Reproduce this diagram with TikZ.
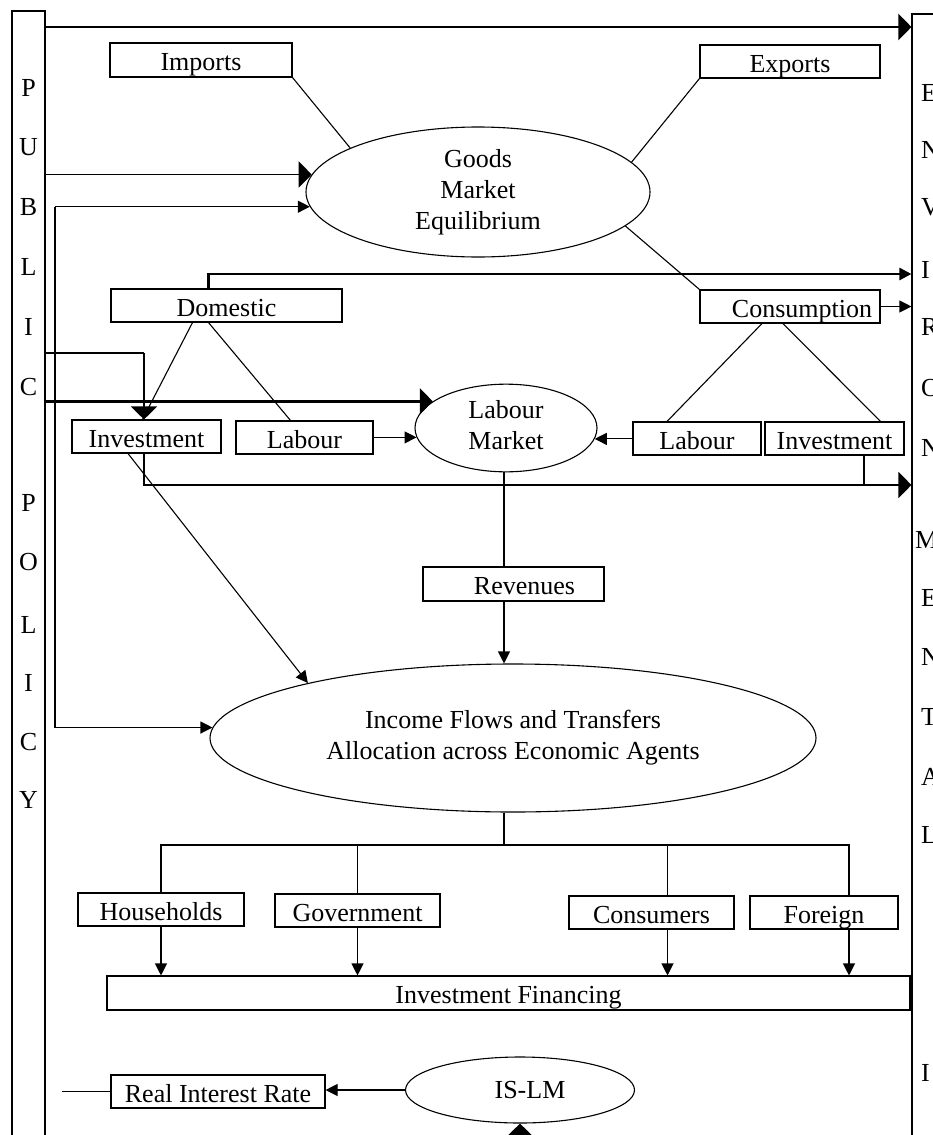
\documentclass[tikz,border=0pt]{standalone}
\usepackage{fontspec}
\setmainfont{Liberation Serif}
\usetikzlibrary{shapes.geometric,arrows.meta}
\newcommand\mainfnt{\fontsize{26}{31}\selectfont}

\begin{document}
\begin{tikzpicture}[x=1pt,y=-1pt,
  box/.style={draw, line width=1.1pt, rectangle, inner sep=1pt, font=\mainfnt, minimum height=33pt, text height=25pt, text depth=4pt},
  oval/.style={draw, line width=1.1pt, ellipse, inner sep=0pt, align=center, font=\mainfnt},
  conn/.style={line width=1.1pt},
  mid/.style={line width=1.7pt},
  heavy/.style={line width=2.4pt},
  tip/.style={-{Triangle[length=12pt,width=12pt]}},
  bigtip/.style={-{Triangle[length=13pt,width=26pt]}},
  letter/.style={font=\mainfnt, inner sep=0pt},
  column/.style={draw, line width=1.1pt, inner sep=0pt}]

\useasboundingbox (0,0) rectangle (933,1135);
\fill[white] (0,0) rectangle (933,1135);

% side columns
\node[column, minimum width=33pt, minimum height=1139pt] (pub) at (28.5,580.5) {};
\node[column, minimum width=48pt, minimum height=1136pt] (env) at (936,582) {};

\foreach \ch/\y [count=\i] in {P/88,U/147,B/207,L/267,I/327,C/387,P/503,O/562,L/625,I/683,C/742,Y/800}
  \node[letter] (pl\i) at (28.5,\y) {\ch};
\foreach \ch/\y [count=\i] in {E/93,N/150,V/207,I/270,R/327,O/388,N/448,E/598,N/657,T/717,A/777,L/835,I/1073}
  \node[letter, anchor=west] (el\i) at (921,\y) {\ch};
\node[letter, anchor=west] (elm) at (915,540) {M};

% markets
\node[oval, minimum width=344pt, minimum height=130pt] (goods) at (478,192) {Goods\\Market\\Equilibrium};
\node[oval, minimum width=182pt, minimum height=80pt] (labmkt) at (506,428)
  {\raisebox{-4pt}{\begin{tabular}{@{}l@{}}Labour\\Market\end{tabular}}};
\node[oval, minimum width=606pt, minimum height=148pt] (income) at (513,738)
  {\raisebox{4pt}{\begin{tabular}{@{}c@{}}Income Flows and Transfers\\Allocation across Economic Agents\end{tabular}}};
\node[oval, minimum width=229pt, minimum height=66pt] (islm) at (520,1090) {\hspace*{20pt}IS-LM};

% boxes
\node[box, minimum width=182pt, minimum height=34pt] (imports) at (201,60) {Imports};
\node[box, minimum width=180pt] (exports) at (790,61.5) {Exports};
\node[box, minimum width=231pt] (domestic) at (226.5,305.5) {Domestic};
\node[box, minimum width=180pt] (consumption) at (790,306.5) {\hspace*{24pt}Consumption};
\node[box, minimum width=149pt] (invL) at (146.5,436.5) {Investment};
\node[box, minimum width=137pt] (labL) at (304.5,437.5) {Labour};
\node[box, minimum width=128pt] (labR) at (697,438.5) {Labour};
\node[box, minimum width=139pt] (invR) at (834.5,438.5) {Investment};
\node[box, minimum width=181pt, minimum height=34pt] (revenues) at (513.5,584) {\hspace*{22pt}Revenues};
\node[box, minimum width=166pt] (households) at (161,909.5) {Households};
\node[box, minimum width=165pt] (government) at (357.5,910.5) {Government};
\node[box, minimum width=165pt] (consumers) at (651.5,912.5) {Consumers};
\node[box, minimum width=148pt] (foreign) at (824,912.5) {Foreign};
\node[box, minimum width=803pt, minimum height=34pt] (invfin) at (508.5,993) {Investment Financing};
\node[box, minimum width=214pt] (rir) at (218,1091.5) {Real Interest Rate};

% reference levels and rails
\coordinate (rail) at (55,0);
\coordinate (lvlTop) at (0,27);
\coordinate (lvlDom) at (0,274);
\coordinate (lvlInv) at (0,353);
\coordinate (invtap) at (144,353);
\coordinate (lvlOut) at (0,485);
\coordinate (hub) at (504,845);
\coordinate (rirout) at (62,0);
\coordinate (islmfeed) at (520,1150);

% policy feeds
\draw[heavy, bigtip] (pub.east |- lvlTop) -- (env.west |- lvlTop);
\draw[mid, bigtip] (pub.east |- goods.174) -- (goods.174);
\draw[conn, tip] (goods.185 -| rail) -- (goods.185);
\draw[conn, tip] (goods.185 -| rail) |- (income.178);
\draw[conn] (pub.east |- lvlInv) -- (invtap);
\draw[heavy, bigtip] (invtap) -- (invtap |- invL.north);
\draw[heavy, bigtip] (pub.east |- labmkt.160) -- (labmkt.160);

% goods market links
\draw[conn] (imports.south east) -- (goods.161);
\draw[conn] (exports.south west) -- (goods.11);
\draw[conn] (goods.-13) -- (consumption.north west);
\draw[heavy, tip] ([xshift=-18pt]domestic.north) |- (env.west |- lvlDom);
\draw[conn, tip] (consumption.east) -- (consumption.east -| env.west);

% domestic and consumption branches
\draw[conn] ([xshift=-34pt]domestic.south) -- ([xshift=-4pt]invL.north);
\draw[conn] ([xshift=-18pt]domestic.south) -- ([xshift=-14pt]labL.north);
\draw[conn] ([xshift=-28pt]consumption.south) -- ([xshift=-30pt]labR.north);
\draw[conn] ([xshift=-7pt]consumption.south) -- ([xshift=46pt]invR.north);

% labour market
\draw[conn, tip] (labL.east |- labmkt.186) -- (labmkt.186);
\draw[conn, tip] (labR.west |- labmkt.-7) -- (labmkt.-7);

% investment outflows
\draw[mid, bigtip] ([xshift=-2.5pt]invL.south) |- (env.west |- lvlOut);
\draw[conn] ([xshift=29.5pt]invR.south) -- ([xshift=29.5pt]invR.south |- lvlOut);
\draw[conn, tip] ([xshift=-18.5pt]invL.south) -- (income.165);

% revenues
\draw[conn] (labmkt.south -| hub) -- (revenues.north -| hub);
\draw[conn, tip] (revenues.south -| hub) -- (income.north -| hub);

% allocation tree
\draw[conn] (income.south -| hub) -- (hub);
\draw[conn] (hub) -| (households.north);
\draw[conn] (hub) -| (government.north);
\draw[conn] (hub) -| ([xshift=16pt]consumers.north);
\draw[conn] (hub) -| ([xshift=25pt]foreign.north);
\draw[conn, tip] (households.south) -- (households.south |- invfin.north);
\draw[conn, tip] (government.south) -- (government.south |- invfin.north);
\draw[conn, tip] ([xshift=16pt]consumers.south) -- ([xshift=16pt]consumers.south |- invfin.north);
\draw[conn, tip] ([xshift=25pt]foreign.south) -- ([xshift=25pt]foreign.south |- invfin.north);

% IS-LM
\draw[conn, tip] (islm.west) -- (islm.west -| rir.east);
\draw[conn] (rir.west) -- (rir.west -| rirout);
\draw[heavy, bigtip] (islm.south |- islmfeed) -- (islm.south);

\end{tikzpicture}
\end{document}
